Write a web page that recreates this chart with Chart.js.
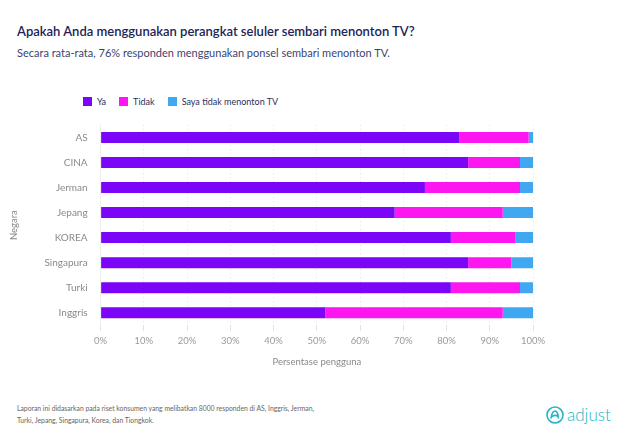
<!DOCTYPE html>
<html lang="id">
<head>
  <meta charset="UTF-8">
  <title>Perangkat seluler sembari menonton TV</title>
  <script src="https://cdn.jsdelivr.net/npm/chart.js"></script>
  <style>
    body { margin: 0; width: 624px; height: 443px; background: #fff; font-family: Lato, sans-serif; position: relative; overflow: hidden; }
    h1 { position: absolute; left: 17px; top: 23px; margin: 0; font-size: 13px; font-weight: 600; color: #1d2457; }
    h2 { position: absolute; left: 17px; top: 46px; margin: 0; font-size: 11px; font-weight: 400; color: #3b4470; }
    #legend { position: absolute; left: 83px; top: 96px; display: flex; font-size: 9px; color: #2a2f5a; }
    #legend span.item { display: flex; align-items: center; margin-right: 13px; }
    #legend i { display: inline-block; width: 9px; height: 9px; margin-right: 5px; }
    #wrap { position: absolute; left: 0; top: 114px; width: 624px; height: 260px; }
    #note { position: absolute; left: 17px; top: 402px; font-size: 6.8px; line-height: 12px; color: #666; }
    #logo { position: absolute; left: 546px; top: 404px; display: flex; align-items: center; color: #26b3c4; font-size: 17px; font-weight: 300; }
    #logo svg { margin-right: 3px; }
  </style>
</head>
<body>
  <h1>Apakah Anda menggunakan perangkat seluler sembari menonton TV?</h1>
  <h2>Secara rata-rata, 76% responden menggunakan ponsel sembari menonton TV.</h2>
  <div id="legend"></div>
  <div id="wrap"><canvas id="chart"></canvas></div>
  <div id="note">Laporan ini didasarkan pada riset konsumen yang melibatkan 8000 responden di AS, Inggris, Jerman,<br>Turki, Jepang, Singapura, Korea, dan Tiongkok.</div>
  <div id="logo">
    <svg width="18" height="18" viewBox="0 0 18 18"><circle cx="9" cy="9" r="8" fill="none" stroke="#26b3c4" stroke-width="1.6"/><path d="M5 12.5 Q6 5 9 5 Q12 5 12.5 12.5 M5.5 11 Q9 8 12.3 10.5" fill="none" stroke="#26b3c4" stroke-width="1.6"/></svg>
    <span>adjust</span>
  </div>

  <script>
    // données
    const negara = ['AS', 'CINA', 'Jerman', 'Jepang', 'KOREA', 'Singapura', 'Turki', 'Inggris'];
    const ya = [83, 85, 75, 68, 81, 85, 81, 52];
    const tidak = [16, 12, 22, 25, 15, 10, 16, 41];
    const tidakNonton = [1, 3, 3, 7, 4, 5, 3, 7];
    const xTicks = [0, 10, 20, 30, 40, 50, 60, 70, 80, 90, 100];

    const series = [
      { label: 'Ya', data: ya, color: '#7a05f7' },
      { label: 'Tidak', data: tidak, color: '#fd16ef' },
      { label: 'Saya tidak menonton TV', data: tidakNonton, color: '#3fa8f0' }
    ];

    // légende en HTML
    const legend = document.getElementById('legend');
    series.forEach(s => {
      const it = document.createElement('span');
      it.className = 'item';
      it.innerHTML = '<i style="background:' + s.color + '"></i>' + s.label;
      legend.appendChild(it);
    });

    new Chart(document.getElementById('chart'), {
      type: 'bar',
      data: {
        labels: negara,
        datasets: series.map(s => ({
          label: s.label,
          data: s.data,
          backgroundColor: s.color,
          barPercentage: 0.44,
          categoryPercentage: 1
        }))
      },
      options: {
        indexAxis: 'y',
        responsive: true,
        maintainAspectRatio: false,
        animation: false,
        layout: { padding: { left: 4, right: 91, top: 4.5, bottom: 2 } },
        plugins: { legend: { display: false }, tooltip: { enabled: false } },
        scales: {
          x: {
            stacked: true,
            min: 0, max: 100,
            afterBuildTicks: axis => { axis.ticks = xTicks.map(v => ({ value: v })); },
            ticks: { callback: v => v + '%', color: '#9a9a9a', font: { family: 'Lato', size: 9.5 }, padding: 4 },
            grid: { color: '#e4e4e4', borderDash: [1, 3], tickLength: 6 },
            border: { display: false, dash: [1, 3] },
            title: { display: true, text: 'Persentase pengguna', color: '#8a8a8a', font: { family: 'Lato', size: 9.5 }, padding: { top: 6 } }
          },
          y: {
            stacked: true,
            ticks: { color: '#8a8a8a', font: { family: 'Lato', size: 10 }, padding: 5 },
            grid: { display: false },
            border: { display: true, color: '#eeeeee' },
            title: { display: true, text: 'Negara', color: '#8a8a8a', font: { family: 'Lato', size: 9.5 }, padding: { bottom: 20 } }
          }
        }
      }
    });
  </script>
</body>
</html>
